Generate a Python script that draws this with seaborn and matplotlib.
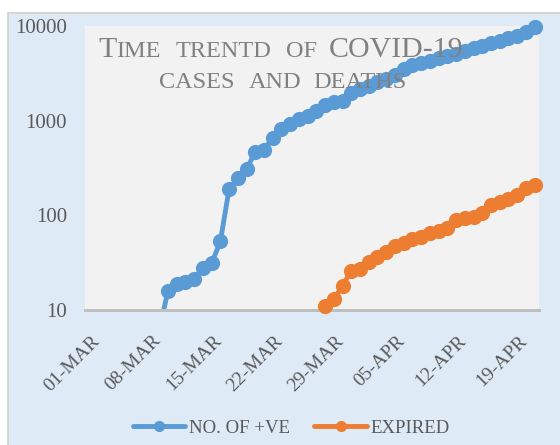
import matplotlib
matplotlib.use('Agg')
import pandas as pd
import numpy as np
import matplotlib.pyplot as plt
import seaborn as sns
from matplotlib.patches import Rectangle
from matplotlib.lines import Line2D
from matplotlib.ticker import NullLocator
from matplotlib.transforms import ScaledTranslation

# values (log scale)
cases = [6, 16, 19, 20, 21, 28, 31, 53, 188, 245, 305, 470, 495, 660, 820, 930,
         1030, 1120, 1270, 1460, 1590, 1630, 1960, 2150, 2330, 2560, 2780, 3070,
         3550, 3920, 4080, 4290, 4540, 4840, 5040, 5420, 5790, 6170, 6540, 6920,
         7390, 7880, 8680, 9800]
deaths = [8, 11, 13, 18, 26, 27, 32, 36, 41, 47, 51, 56, 59, 65, 68, 73, 89, 94,
          97, 106, 128, 139, 148, 164, 193, 209]
cases_start = '2020-03-09'
deaths_start = '2020-03-27'

tick_dates = ['2020-03-01', '2020-03-08', '2020-03-15', '2020-03-22',
              '2020-03-29', '2020-04-05', '2020-04-12', '2020-04-19']
tick_labels = ['01-MAR', '08-MAR', '15-MAR', '22-MAR', '29-MAR', '05-APR', '12-APR', '19-APR']
y_ticks = [10, 100, 1000, 10000]
series_names = ['NO. OF +VE', 'EXPIRED']
colors = ['#5B9BD5', '#ED7D31']

sns.set_style('white')
plt.rcParams['font.family'] = ['Liberation Serif', 'DejaVu Serif']

half_day = pd.Timedelta(hours=12)
df_cases = pd.DataFrame({'date': pd.date_range(cases_start, periods=len(cases)) + half_day,
                         'value': cases})
df_deaths = pd.DataFrame({'date': pd.date_range(deaths_start, periods=len(deaths)) + half_day,
                          'value': deaths})

fig = plt.figure(figsize=(5.6, 4.45), dpi=100, facecolor='white')
fig.patches.append(Rectangle((8 / 560, -0.01), 1.0, 1 - 13 / 445 + 0.01,
                             transform=fig.transFigure, facecolor='#DEEBF7',
                             edgecolor='#D0D0D0', lw=1.2, zorder=-5))
ax = fig.add_axes([85 / 560, 1 - 310 / 445, 454 / 560, 284 / 445])
ax.set_facecolor('#F2F2F2')

for df, c in [(df_cases, colors[0]), (df_deaths, colors[1])]:
    sns.lineplot(data=df, x='date', y='value', ax=ax, color=c, linewidth=3.5)
    shown = df[df['value'] >= 10]
    sns.scatterplot(data=shown, x='date', y='value', ax=ax, color=c, s=120,
                    linewidth=0, clip_on=False, zorder=3)

ax.set_yscale('log')
ax.set_ylim(10, 10000)
ax.set_xlim(pd.Timestamp('2020-03-01'), pd.Timestamp('2020-04-22'))
ax.set_yticks(y_ticks, labels=[str(v) for v in y_ticks])
ax.yaxis.set_minor_locator(NullLocator())
ax.set_xticks(pd.to_datetime(tick_dates))
ax.set_xticklabels(tick_labels, rotation=45, ha='right', rotation_mode='anchor')
ax.set_xlabel('')
ax.set_ylabel('')

for s in ['left', 'right', 'top']:
    ax.spines[s].set_visible(False)
ax.spines['bottom'].set_color('#BFBFBF')
ax.spines['bottom'].set_linewidth(2.2)
ax.tick_params(axis='y', length=0, pad=13, labelsize=15, labelcolor='#595959')
ax.tick_params(axis='x', length=5, width=2, color='#BFBFBF', pad=11,
               labelsize=14, labelcolor='#595959')
shift = ScaledTranslation(6 / 100, 0, fig.dpi_scale_trans)
for lab in ax.get_xticklabels():
    lab.set_transform(lab.get_transform() + shift)

handles = [Line2D([], [], color=c, lw=3.5, marker='o', markersize=7) for c in colors]
fig.legend(handles, series_names, loc='center', bbox_to_anchor=(0.52, 0.038), ncol=2,
           frameon=False, fontsize=13.5, handlelength=2.8, handletextpad=0.2,
           columnspacing=1.3, labelcolor='#595959')

# title in mock small caps with wide tracking: word by word
title_words = [('T', 21.5, 98, 57), ('IME', 17.5, 116, 57), ('TRENTD', 17.5, 176, 57),
               ('OF', 17.5, 286, 57), ('COVID-19', 21.5, 329, 57),
               ('CASES', 17.5, 159, 88), ('AND', 17.5, 249, 88), ('DEATHS', 17.5, 313, 88)]
for word, size, px, py in title_words:
    fig.text(px / 560, 1 - py / 445, word, fontsize=size, color='#808080',
             va='baseline', zorder=4)

fig.savefig('out.png', dpi=100)
